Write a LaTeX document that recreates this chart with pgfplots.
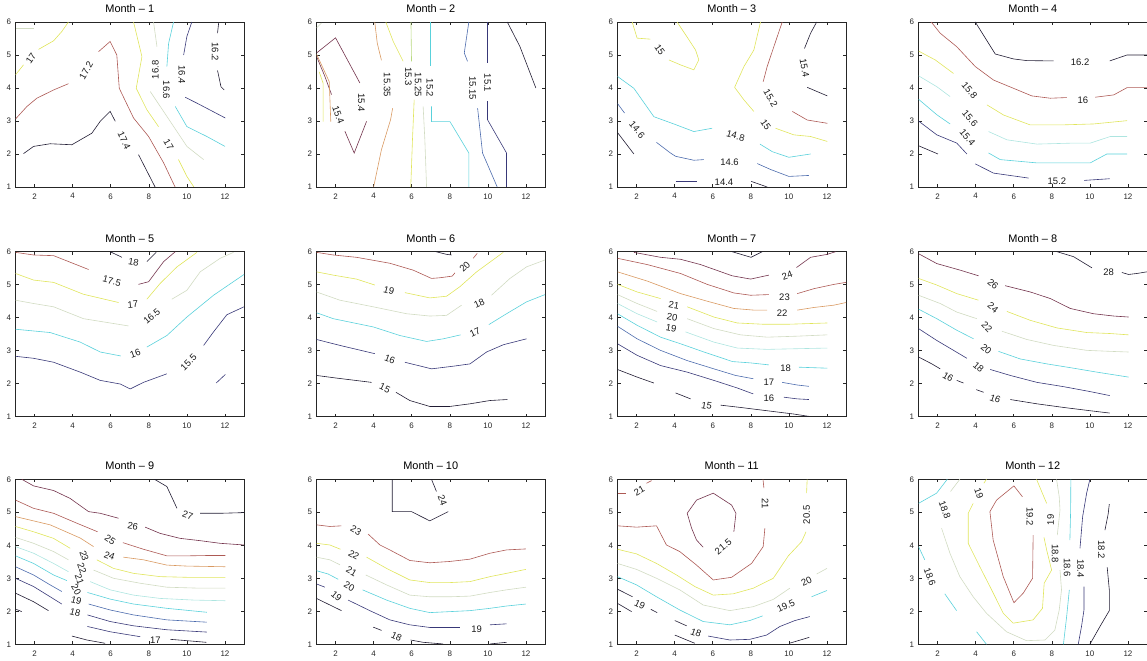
\documentclass[border=0pt]{standalone}
\usepackage{pgfplots}
\pgfplotsset{compat=1.18}
\usepackage{fontspec}
\setmainfont{Liberation Sans}
\definecolor{cK}{rgb}{0.13,0.11,0.2}
\definecolor{cN}{rgb}{0.22,0.22,0.47}
\definecolor{cB}{rgb}{0.3,0.42,0.68}
\definecolor{cC}{rgb}{0.35,0.82,0.86}
\definecolor{cPC}{rgb}{0.68,0.9,0.88}
\definecolor{cP}{rgb}{0.82,0.86,0.76}
\definecolor{cG}{rgb}{0.72,0.85,0.5}
\definecolor{cY}{rgb}{0.88,0.9,0.36}
\definecolor{cO}{rgb}{0.85,0.6,0.38}
\definecolor{cR}{rgb}{0.68,0.35,0.33}
\definecolor{cM}{rgb}{0.45,0.2,0.3}
\pgfplotsset{
  mstyle/.style={
    width=228.5bp,height=165bp,scale only axis,anchor=north west,
    xmin=1,xmax=13,ymin=1,ymax=6,
    xtick={2,4,6,8,10,12}, ytick={1,2,3,4,5,6},
    tick align=inside, major tick length=3bp,
    axis line style={line width=0.6pt, black!85},
    tick style={line width=0.5pt, black!85},
    /pgf/number format/assume math mode=true,
    xticklabel style={font=\fontsize{8}{9}\selectfont, yshift=-3bp, text=black!85},
    yticklabel style={font=\fontsize{8}{9}\selectfont, xshift=-1bp, text=black!85},
    title style={font=\fontsize{11}{12}\selectfont},
    every axis plot/.append style={line width=0.6pt, mark=none},
  },
}
\tikzset{lab/.style={font=\fontsize{9.5}{10}\selectfont, inner sep=0pt, text=black!90}}
\newcommand{\cl}[3][0]{\node[lab,rotate=#1] at (axis cs:#2) {#3};}
\begin{document}
\begin{tikzpicture}
\useasboundingbox (0,0) rectangle (1147bp,661bp);
% ---------------- Month 1
\begin{axis}[mstyle, at={(15.5bp,639bp)}, title={Month \textendash{} 1}]
\addplot[cP] coordinates {(1.04,5.81)(1.95,5.81)};
\addplot[cY] coordinates {(1.0,4.40)(1.42,4.70)};
\addplot[cY] coordinates {(2.21,5.17)(3.0,5.43)(3.43,5.71)(3.78,6.0)};
\cl[55]{1.81,4.9}{17}
\addplot[cR] coordinates {(1.0,3.06)(1.60,3.44)(2.12,3.69)(3.0,3.94)(3.78,4.13)};
\addplot[cR] coordinates {(5.36,5.10)(5.97,5.41)(6.32,5.0)(6.45,3.99)(7.20,3.09)(7.99,2.53)(8.78,1.73)(9.38,1.0)};
\cl[60]{4.71,4.53}{17.2}
\addplot[cK] coordinates {(1.42,2.01)(1.95,2.23)(2.82,2.31)(3.96,2.28)(5.01,2.63)(5.45,2.99)(5.97,3.29)(6.24,2.99)};
\addplot[cK] coordinates {(7.46,1.98)(8.33,1.0)};
\cl[-65]{6.71,2.41}{17.4}
\addplot[cY] coordinates {(7.20,6.0)(7.64,4.95)(7.34,3.99)(7.90,3.34)(8.51,2.83)};
\addplot[cY] coordinates {(9.56,1.83)(10.0,1.32)(10.37,1.0)};
\cl[-60]{9.04,2.28}{17}
\addplot[cP] coordinates {(8.25,6.0)(8.43,5.25)};
\addplot[cP] coordinates {(8.08,3.89)(8.95,3.14)(10.0,2.23)(10.88,1.83)};
\cl[90]{8.34,4.55}{16.8}
\addplot[cC] coordinates {(9.30,6.0)(9.04,5.35)(8.95,4.65)};
\addplot[cC] coordinates {(9.39,3.44)(10.0,2.83)(11.05,2.53)(12.0,2.23)};
\cl[-90]{8.92,3.94}{16.6}
\addplot[cN] coordinates {(10.26,6.0)(10.0,5.56)(9.83,5.0)};
\addplot[cN] coordinates {(9.91,3.72)(10.53,3.54)(12.02,3.09)};
\cl[-90]{9.74,4.40}{16.4}
\addplot[cK] coordinates {(11.67,5.98)(11.61,5.66)};
\addplot[cK] coordinates {(11.61,4.53)(11.79,4.04)(11.96,3.94)};
\cl[-90]{11.49,5.10}{16.2}
\end{axis}
% ---------------- Month 2
\begin{axis}[mstyle, at={(316.5bp,639bp)}, title={Month \textendash{} 2}]
\addplot[cP] coordinates {(1.0,5.82)(1.26,5.97)};
\addplot[cM] coordinates {(1.0,5.06)(2.0,5.52)(3.28,4.15)};
\addplot[cM] coordinates {(3.63,2.99)(2.98,2.03)(2.49,2.69)};
\addplot[cM] coordinates {(1.79,3.80)(1.44,4.35)(1.0,4.96)};
\cl[-90]{3.36,3.55}{15.4}
\cl[-70]{2.14,3.19}{15.4}
\addplot[cO] coordinates {(1.0,5.03)(1.67,4.19)(1.75,2.98)};
\addplot[cY] coordinates {(1.14,4.49)(1.35,4.14)(1.35,2.98)};
\addplot[cO] coordinates {(4.06,6.0)(4.19,5.36)(4.41,4.84)};
\addplot[cO] coordinates {(5.0,3.39)(4.89,3.04)(4.41,2.13)(4.0,1.0)};
\cl[-90]{4.71,4.10}{15.35}
\addplot[cY] coordinates {(4.64,6.0)(5.03,5.41)(5.55,4.81)};
\addplot[cY] coordinates {(6.13,3.65)(6.04,2.43)(5.95,1.0)};
\cl[-90]{5.82,4.35}{15.3}
\addplot[cG] coordinates {(5.96,6.0)(5.99,4.81)};
\addplot[cP] coordinates {(6.60,3.44)(6.69,2.43)(6.78,1.0)};
\cl[-90]{6.34,4.10}{15.25}
\addplot[cC] coordinates {(6.99,6.0)(6.99,4.66)};
\addplot[cC] coordinates {(7.04,3.44)(7.04,2.98)(8.01,2.98)(9.0,2.03)(9.0,1.0)};
\cl[-90]{6.95,4.0}{15.2}
\addplot[cB] coordinates {(9.0,6.0)(8.76,5.06)(8.93,4.81)};
\addplot[cB] coordinates {(9.46,3.39)(9.72,2.03)(10.49,1.0)};
\cl[-90]{9.20,4.0}{15.15}
\addplot[cN] coordinates {(9.98,6.0)(9.98,4.76)};
\addplot[cN] coordinates {(9.98,3.60)(9.98,3.04)(10.98,2.03)(10.98,1.0)};
\cl[-90]{9.98,4.15}{15.1}
\addplot[cK] coordinates {(11.02,6.0)(11.68,5.26)(12.52,4.0)};
\end{axis}
% ---------------- Month 3
\begin{axis}[mstyle, at={(617.5bp,639bp)}, title={Month \textendash{} 3}]
\addplot[cY] coordinates {(1.77,6.0)(2.03,5.51)(2.73,5.48)};
\addplot[cY] coordinates {(3.70,4.85)(4.31,4.70)(5.01,4.55)(5.27,4.85)(5.10,5.15)(4.66,5.54)(4.13,6.0)};
\cl[-55]{3.22,5.15}{15}
\addplot[cY] coordinates {(8.51,6.0)(8.16,5.15)(7.64,4.65)(7.15,4.02)(7.64,3.64)(8.16,3.29)};
\addplot[cY] coordinates {(9.30,2.78)(10.26,2.58)(11.14,2.53)(12.02,2.38)};
\cl[-55]{8.78,2.89}{15}
\addplot[cC] coordinates {(1.0,4.35)(1.86,3.99)(2.91,3.13)(3.96,2.91)(5.01,2.68)(5.97,2.78)};
\cl[-15]{7.20,2.55}{14.8}
\addplot[cC] coordinates {(8.48,2.30)(9.13,2.07)(10.0,1.90)(11.14,2.0)};
\addplot[cB] coordinates {(1.0,3.53)(1.37,3.24)};
\cl[-50]{2.03,2.73}{14.6}
\addplot[cB] coordinates {(3.05,2.35)(3.78,2.03)(4.05,1.93)(5.01,1.81)(5.54,1.83)};
\cl{6.88,1.76}{14.6}
\addplot[cB] coordinates {(8.34,1.71)(9.04,1.53)(10.0,1.32)(11.05,1.35)};
\addplot[cK] coordinates {(1.0,2.65)(1.86,2.0)};
\addplot[cN] coordinates {(4.05,1.16)(5.15,1.16)};
\cl{6.59,1.14}{14.4}
\addplot[cK] coordinates {(8.02,1.17)(8.86,1.0)};
\addplot[cR] coordinates {(9.65,6.0)(9.21,5.25)(8.86,4.65)(8.65,4.19)};
\cl[-60]{9.04,3.69}{15.2}
\addplot[cR] coordinates {(10.18,3.29)(10.96,3.03)(12.02,2.93)};
\addplot[cK] coordinates {(11.46,6.0)(11.14,5.66)(10.82,5.20)};
\cl[-80]{10.82,4.60}{15.4}
\addplot[cK] coordinates {(10.96,4.02)(12.02,3.76)};
\end{axis}
% ---------------- Month 4
\begin{axis}[mstyle, at={(918.5bp,639bp)}, title={Month \textendash{} 4}]
\addplot[cK] coordinates {(3.98,6.0)(5.03,5.03)(5.99,4.88)(6.69,4.83)(8.09,4.82)};
\cl{9.49,4.78}{16.2}
\addplot[cK] coordinates {(11.04,4.82)(11.95,5.0)(13.0,5.0)};
\addplot[cR] coordinates {(1.67,6.0)(2.14,5.66)(3.01,5.25)(3.98,4.65)(4.94,4.24)(5.99,3.99)(6.95,3.76)(7.92,3.69)(8.79,3.71)};
\cl{9.63,3.64}{16}
\addplot[cR] coordinates {(10.28,3.72)(11.25,3.79)(11.95,4.01)(13.0,4.01)};
\addplot[cY] coordinates {(1.0,5.12)(1.88,4.85)(2.84,4.44)};
\cl[-50]{3.68,3.94}{15.8}
\addplot[cY] coordinates {(4.59,3.49)(5.47,3.18)(6.87,2.88)(8.44,2.88)(10.19,2.91)(11.95,3.01)};
\addplot[cPC] coordinates {(1.0,4.37)(1.96,4.04)(2.66,3.74)};
\cl[-50]{3.71,3.09}{15.6}
\addplot[cPC] coordinates {(4.68,2.68)(5.64,2.43)(7.22,2.30)(9.14,2.33)(10.02,2.33)(11.07,2.53)(11.95,2.53)};
\addplot[cC] coordinates {(1.0,3.66)(1.96,3.19)(2.66,2.91)};
\cl[-50]{3.57,2.51}{15.4}
\addplot[cC] coordinates {(4.68,2.03)(5.29,1.83)(7.22,1.73)(8.62,1.73)(10.02,1.73)(10.89,2.0)(11.95,2.0)};
\addplot[cN] coordinates {(1.0,3.0)(1.96,2.58)(3.01,2.33)(3.54,2.0)};
\addplot[cN] coordinates {(3.98,1.70)(4.94,1.42)(6.78,1.27)};
\cl{8.27,1.17}{15.2}
\addplot[cN] coordinates {(9.70,1.20)(11.04,1.25)};
\addplot[cK] coordinates {(1.0,2.25)(2.02,2.0)};
\end{axis}
% ---------------- Month 5
\begin{axis}[mstyle, at={(15.5bp,409.3bp)}, title={Month \textendash{} 5}]
\addplot[cR] coordinates {(1.0,5.98)(1.95,5.90)(3.0,5.88)(4.84,5.46)};
\cl[-15]{6.06,5.11}{17.5}
\addplot[cM] coordinates {(7.46,5.01)(7.99,5.09)(8.78,5.70)(9.39,6.0)};
\addplot[cK] coordinates {(5.97,6.0)(6.59,5.83)};
\cl[-10]{7.20,5.67}{18}
\addplot[cK] coordinates {(7.90,5.70)(8.39,5.98)};
\addplot[cY] coordinates {(1.0,5.34)(1.95,5.14)(3.0,5.07)(4.57,4.71)(6.41,4.46)};
\cl[5]{7.16,4.40}{17}
\addplot[cY] coordinates {(7.90,4.56)(8.60,5.04)(9.48,5.54)(10.53,5.98)};
\addplot[cP] coordinates {(1.0,4.53)(1.95,4.43)(3.0,4.33)(4.57,3.97)(6.94,3.75)};
\cl[40]{8.16,4.05}{16.5}
\addplot[cP] coordinates {(9.21,4.56)(10.0,4.83)(10.70,5.39)(11.75,5.80)(12.45,5.98)};
\addplot[cC] coordinates {(1.0,3.65)(2.82,3.55)(4.40,3.26)(5.45,2.96)(6.53,2.84)};
\cl[20]{7.29,2.91}{16}
\addplot[cC] coordinates {(7.90,3.11)(8.95,3.46)(10.0,4.02)(11.40,4.68)(13.0,5.31)};
\addplot[cN] coordinates {(1.0,2.83)(1.95,2.77)(3.0,2.65)(4.40,2.35)(5.45,2.10)(6.50,1.99)(7.02,1.84)(7.72,2.04)(8.95,2.30)};
\cl[45]{10.09,2.65}{15.5}
\addplot[cN] coordinates {(10.88,3.16)(11.40,3.57)(12.10,4.09)(13.0,4.33)};
\addplot[cN] coordinates {(11.54,2.02)(12.02,2.28)};
\end{axis}
% ---------------- Month 6
\begin{axis}[mstyle, at={(316.5bp,409.3bp)}, title={Month \textendash{} 6}]
\addplot[cK] coordinates {(7.27,6.0)(7.83,5.92)(8.09,5.90)};
\addplot[cR] coordinates {(1.0,5.98)(1.88,5.90)(3.10,5.83)(4.85,5.65)(6.08,5.44)(7.04,5.19)(7.48,5.21)(8.13,5.26)(8.27,5.36)};
\cl[45]{8.79,5.54}{20}
\addplot[cR] coordinates {(9.23,5.80)(9.44,5.95)};
\addplot[cY] coordinates {(1.0,5.39)(1.88,5.29)(3.10,5.17)(4.06,4.99)};
\cl[-15]{4.80,4.83}{19}
\addplot[cY] coordinates {(5.64,4.76)(6.95,4.60)(7.83,4.65)(8.53,4.94)(9.41,5.39)(10.81,5.98)};
\addplot[cP] coordinates {(1.0,4.78)(2.23,4.53)(3.98,4.33)(5.73,4.12)(6.95,4.05)(7.83,4.07)(8.62,4.38)};
\cl[25]{9.55,4.43}{18}
\addplot[cP] coordinates {(10.19,4.68)(11.16,5.19)(12.03,5.54)(13.0,5.75)};
\addplot[cC] coordinates {(1.0,4.15)(1.88,3.97)(3.98,3.72)(5.38,3.46)(6.78,3.28)(7.66,3.36)(8.57,3.48)};
\cl[25]{9.32,3.55}{17}
\addplot[cC] coordinates {(10.05,3.79)(10.98,4.12)(12.03,4.48)(13.0,4.70)};
\addplot[cN] coordinates {(1.0,3.34)(2.23,3.16)(4.06,2.91)};
\cl[-20]{4.85,2.73}{16}
\addplot[cN] coordinates {(5.64,2.65)(7.04,2.45)(8.18,2.53)(9.06,2.60)(9.93,2.96)(10.81,3.18)(12.03,3.36)};
\addplot[cK] coordinates {(1.0,2.25)(2.05,2.17)(3.89,2.04)};
\cl[-25]{4.59,1.86}{15}
\addplot[cK] coordinates {(5.17,1.74)(5.90,1.49)(6.95,1.31)(8.0,1.31)(9.06,1.39)(10.11,1.49)(11.02,1.52)};
\end{axis}
% ---------------- Month 7
\begin{axis}[mstyle, at={(617.5bp,409.3bp)}, title={Month \textendash{} 7}]
\addplot[cK] coordinates {(7.02,6.0)(8.01,5.83)(8.60,6.0)};
\addplot[cM] coordinates {(1.86,5.98)(3.26,5.83)(4.31,5.77)(5.36,5.61)(7.02,5.27)(7.99,5.17)(8.95,5.29)};
\cl[20]{9.91,5.29}{24}
\addplot[cM] coordinates {(10.40,5.52)(11.14,5.83)(12.02,5.92)(12.45,6.0)};
\addplot[cR] coordinates {(1.0,5.80)(2.56,5.61)(4.31,5.34)(5.71,5.01)(7.11,4.75)(7.99,4.68)(8.95,4.70)};
\cl{9.77,4.63}{23}
\addplot[cR] coordinates {(10.44,4.73)(11.32,4.88)(12.37,5.01)(13.0,5.07)};
\addplot[cO] coordinates {(1.0,5.39)(2.56,5.11)(4.31,4.73)(5.71,4.50)(7.11,4.28)(8.16,4.23)(8.86,4.23)};
\cl{9.65,4.14}{22}
\addplot[cO] coordinates {(10.44,4.23)(11.32,4.31)(12.37,4.38)(13.0,4.46)};
\addplot[cY] coordinates {(1.0,5.01)(2.03,4.78)(3.26,4.58)};
\cl[-10]{3.96,4.38}{21}
\addplot[cY] coordinates {(4.66,4.33)(6.06,4.02)(7.29,3.84)(8.69,3.80)(9.91,3.80)(12.02,3.84)};
\addplot[cP] coordinates {(1.0,4.70)(2.03,4.43)(3.08,4.19)};
\cl[-10]{3.87,4.02}{20}
\addplot[cP] coordinates {(4.66,3.97)(6.06,3.67)(7.46,3.48)(8.86,3.41)(10.44,3.44)(12.02,3.48)};
\addplot[cPC] coordinates {(1.0,4.43)(2.03,4.12)(3.08,3.87)};
\cl[-10]{3.82,3.67}{19}
\addplot[cPC] coordinates {(4.57,3.57)(6.06,3.26)(7.29,3.08)(8.86,3.04)(10.44,3.06)(12.02,3.08)};
\addplot[cC] coordinates {(1.0,4.12)(2.03,3.77)(3.26,3.41)(4.31,3.21)(5.54,2.96)(7.04,2.67)(7.99,2.63)(8.95,2.57)};
\cl{9.83,2.47}{18}
\addplot[cC] coordinates {(10.53,2.50)(12.02,2.47)};
\addplot[cB] coordinates {(1.0,3.74)(2.03,3.36)(3.26,3.01)(4.66,2.70)(6.06,2.45)(7.20,2.25)(8.13,2.15)};
\cl{8.95,2.04}{17}
\addplot[cB] coordinates {(9.65,2.04)(10.44,1.96)(11.05,1.92)};
\addplot[cN] coordinates {(1.0,3.21)(2.03,2.86)(3.26,2.55)(4.66,2.35)(6.06,2.10)(7.29,1.87)(8.13,1.69)};
\cl{8.95,1.56}{16}
\addplot[cN] coordinates {(9.74,1.59)(10.44,1.54)(11.05,1.52)};
\addplot[cK] coordinates {(1.0,2.43)(2.03,2.20)(2.91,2.02)};
\addplot[cK] coordinates {(4.05,1.72)(4.84,1.54)};
\cl[-10]{5.68,1.33}{15}
\addplot[cK] coordinates {(6.41,1.35)(7.46,1.28)(8.86,1.18)(10.26,1.08)(11.05,1.01)};
\end{axis}
% ---------------- Month 8
\begin{axis}[mstyle, at={(918.5bp,409.3bp)}, title={Month \textendash{} 8}]
\addplot[cK] coordinates {(8.27,6.0)(9.14,5.85)(10.11,5.51)};
\cl{10.98,5.39}{28}
\addplot[cK] coordinates {(11.68,5.37)(12.03,5.31)(12.47,5.34)(13.0,5.39)};
\addplot[cM] coordinates {(1.0,5.94)(1.96,5.64)(3.19,5.44)(4.15,5.27)};
\cl[-40]{4.91,5.01}{26}
\addplot[cM] coordinates {(5.55,4.97)(6.87,4.78)(7.92,4.58)(8.97,4.28)(10.19,4.12)(11.25,4.05)(12.03,4.02)};
\addplot[cY] coordinates {(1.0,5.19)(1.96,4.99)(3.01,4.73)(4.15,4.53)};
\cl[-40]{4.91,4.30}{24}
\addplot[cY] coordinates {(5.64,4.19)(6.87,3.92)(8.27,3.69)(9.84,3.55)(11.07,3.52)(12.03,3.48)};
\addplot[cP] coordinates {(1.0,4.68)(2.14,4.43)(3.01,4.17)(4.06,3.97)};
\cl[-45]{4.59,3.72}{22}
\addplot[cP] coordinates {(5.38,3.59)(6.69,3.34)(8.09,3.16)(9.84,3.01)(11.07,2.98)(12.03,2.96)};
\addplot[cC] coordinates {(1.0,4.26)(1.96,3.97)(3.01,3.62)(3.89,3.36)};
\cl[-40]{4.56,3.04}{20}
\addplot[cC] coordinates {(5.20,2.98)(6.34,2.75)(7.74,2.60)(9.14,2.47)(10.37,2.35)(12.03,2.20)};
\addplot[cN] coordinates {(1.0,3.67)(1.96,3.31)(2.84,3.01)(3.54,2.77)};
\cl[-40]{4.15,2.50}{18}
\addplot[cN] coordinates {(4.77,2.43)(5.82,2.25)(7.22,2.04)(8.62,1.91)(10.02,1.76)(11.04,1.64)};
\addplot[cK] coordinates {(1.0,2.81)(1.70,2.60)(2.14,2.45)};
\cl[-30]{2.55,2.20}{16}
\addplot[cK] coordinates {(3.01,2.10)(3.36,2.02)};
\addplot[cK] coordinates {(4.03,1.82)(4.42,1.74)};
\cl[-20]{5.03,1.54}{16}
\addplot[cK] coordinates {(5.82,1.52)(7.22,1.39)(8.62,1.28)(10.02,1.18)(11.04,1.11)};
\end{axis}
% ---------------- Month 9
\begin{axis}[mstyle, at={(15.5bp,181.7bp)}, title={Month \textendash{} 9}]
\addplot[cK] coordinates {(8.30,6.0)(8.95,5.78)(9.48,5.12)};
\cl[-20]{10.04,4.92}{27}
\addplot[cK] coordinates {(10.70,4.97)(11.75,4.97)(13.0,4.99)};
\addplot[cM] coordinates {(1.33,6.0)(1.95,5.80)(3.0,5.66)(3.87,5.42)(4.84,5.02)(5.45,4.97)(6.41,4.82)};
\cl[-10]{7.16,4.59}{26}
\addplot[cM] coordinates {(7.81,4.55)(8.60,4.36)(9.65,4.21)(10.70,4.14)(11.75,4.06)(13.0,4.01)};
\addplot[cR] coordinates {(1.0,5.37)(1.95,5.12)(3.0,4.97)(4.22,4.67)(5.31,4.41)};
\cl[-35]{5.97,4.18}{25}
\addplot[cR] coordinates {(6.64,4.08)(7.72,3.88)(8.95,3.68)(10.0,3.68)(11.05,3.69)(12.02,3.69)};
\addplot[cO] coordinates {(1.0,4.87)(2.82,4.62)(4.40,4.22)(5.10,3.96)};
\cl[-20]{5.94,3.68}{24}
\addplot[cO] coordinates {(6.67,3.64)(7.72,3.56)(8.95,3.40)(10.0,3.37)(12.02,3.35)};
\addplot[cY] coordinates {(1.0,4.57)(1.95,4.41)(3.0,4.21)(3.87,3.91)};
\cl[-70]{4.61,3.68}{23}
\addplot[cY] coordinates {(5.27,3.56)(6.15,3.30)(7.20,3.15)(8.60,3.05)(10.0,3.03)(12.02,3.03)};
\addplot[cP] coordinates {(1.0,4.24)(1.95,4.06)(3.0,3.81)(3.78,3.56)};
\cl[-70]{4.49,3.31}{22}
\addplot[cP] coordinates {(5.10,3.25)(6.15,3.0)(7.55,2.85)(8.95,2.73)(10.70,2.70)(12.02,2.70)};
\addplot[cPC] coordinates {(1.0,3.96)(1.95,3.76)(3.0,3.45)(3.78,3.20)};
\cl[-70]{4.36,2.97}{21}
\addplot[cPC] coordinates {(4.92,2.90)(5.97,2.65)(7.20,2.49)(8.60,2.39)(10.35,2.34)(12.02,2.32)};
\addplot[cC] coordinates {(1.0,3.68)(1.95,3.45)(3.0,3.10)(3.70,2.93)};
\cl[-60]{4.19,2.66}{20}
\addplot[cC] coordinates {(4.78,2.57)(5.97,2.37)(7.20,2.22)(8.95,2.09)(11.05,1.97)};
\addplot[cB] coordinates {(1.0,3.35)(1.95,3.10)(2.82,2.80)(3.43,2.60)};
\cl[-15]{4.19,2.32}{19}
\addplot[cB] coordinates {(4.84,2.22)(5.97,2.04)(7.20,1.89)(8.95,1.74)(11.05,1.67)};
\addplot[cN] coordinates {(1.0,3.0)(1.95,2.75)(2.82,2.44)(3.43,2.22)};
\cl[-15]{4.13,1.97}{18}
\addplot[cN] coordinates {(4.78,1.89)(5.97,1.69)(7.20,1.56)(8.95,1.44)(11.05,1.37)};
\addplot[cN] coordinates {(4.78,1.54)(5.97,1.38)(7.55,1.23)};
\addplot[cK] coordinates {(1.0,2.55)(1.95,2.29)(2.73,2.02)};
\addplot[cK] coordinates {(1.04,2.06)(1.33,1.99)};
\addplot[cK] coordinates {(3.96,1.25)(4.75,1.13)(5.71,1.03)};
\cl{8.34,1.13}{17}
\addplot[cK] coordinates {(9.13,1.15)(10.0,1.11)(11.02,1.06)};
\end{axis}
% ---------------- Month 10
\begin{axis}[mstyle, at={(316.5bp,181.7bp)}, title={Month \textendash{} 10}]
\addplot[cK] coordinates {(4.98,6.0)(4.98,5.02)(5.99,5.02)(6.95,4.74)(7.92,5.02)};
\addplot[cK] coordinates {(7.04,6.0)(7.30,5.63)};
\cl[-70]{7.62,5.37}{24}
\addplot[cR] coordinates {(1.0,4.62)(1.70,4.57)(2.31,4.59)};
\cl[-30]{3.07,4.44}{23}
\addplot[cR] coordinates {(3.71,4.34)(4.33,4.01)(4.85,3.86)(5.90,3.54)(6.95,3.47)(8.0,3.51)(9.06,3.58)(10.11,3.76)(10.98,3.86)(12.0,3.89)};
\addplot[cY] coordinates {(1.0,4.06)(1.70,4.01)(2.26,3.88)};
\cl[-30]{2.96,3.71}{22}
\addplot[cY] coordinates {(3.63,3.64)(4.68,3.30)(5.90,2.95)(6.95,2.87)(8.0,2.87)(9.06,2.90)(10.11,3.05)(10.98,3.15)(12.0,3.27)};
\addplot[cP] coordinates {(1.0,3.64)(1.70,3.56)(2.23,3.41)};
\cl[-30]{2.84,3.20}{21}
\addplot[cP] coordinates {(3.59,3.10)(4.68,2.80)(5.90,2.49)(6.95,2.44)(8.0,2.44)(9.06,2.46)(10.11,2.57)(10.98,2.65)(12.0,2.73)};
\addplot[cC] coordinates {(1.0,3.23)(1.61,3.13)(2.14,2.97)};
\cl[-30]{2.72,2.75}{20}
\addplot[cC] coordinates {(3.42,2.65)(4.68,2.34)(5.90,2.09)(6.95,1.96)(8.0,1.99)(9.06,2.02)(10.11,2.09)(10.98,2.16)(12.0,2.22)};
\addplot[cN] coordinates {(1.0,2.83)(1.44,2.73)};
\cl[-40]{2.05,2.46}{19}
\addplot[cN] coordinates {(2.66,2.34)(3.80,2.02)(4.85,1.74)(5.90,1.59)(6.95,1.51)(8.53,1.51)};
\cl{9.41,1.46}{19}
\addplot[cN] coordinates {(10.11,1.59)(10.98,1.62)};
\addplot[cK] coordinates {(1.0,2.39)(2.31,2.02)};
\addplot[cK] coordinates {(3.98,1.52)(4.42,1.42)};
\cl[-25]{5.20,1.23}{18}
\addplot[cK] coordinates {(5.94,1.13)(6.60,1.06)(7.65,1.01)};
\addplot[cK] coordinates {(10.11,1.01)(10.98,1.06)};
\end{axis}
% ---------------- Month 11
\begin{axis}[mstyle, at={(617.5bp,181.7bp)}, title={Month \textendash{} 11}]
\addplot[cR] coordinates {(1.0,5.58)(1.47,5.58)};
\cl[30]{2.14,5.66}{21}
\addplot[cR] coordinates {(2.52,5.88)(2.79,5.96)};
\addplot[cR] coordinates {(1.0,4.59)(2.0,4.55)(3.05,4.59)(3.57,4.01)(4.27,3.81)(5.15,3.40)(6.03,2.95)(6.99,3.03)(8.04,3.45)(8.65,3.96)(8.74,4.52)};
\cl[-90]{8.76,5.27}{21}
\addplot[cR] coordinates {(8.69,5.73)(8.64,6.0)};
\addplot[cM] coordinates {(7.11,4.41)(7.22,4.97)(6.99,5.22)(6.03,5.58)(5.15,5.37)(4.66,4.97)(4.89,4.52)(5.15,4.16)(5.50,3.94)};
\cl[40]{6.55,3.96}{21.5}
\addplot[cY] coordinates {(1.0,3.88)(2.0,3.74)(3.05,3.45)(4.10,3.10)(5.06,2.75)(6.03,2.49)(7.08,2.53)(8.13,2.70)(9.18,3.0)(9.97,3.68)(10.67,4.11)(10.90,4.41)};
\cl[90]{10.93,4.92}{20.5}
\addplot[cY] coordinates {(10.93,5.58)(10.96,6.0)};
\addplot[cP] coordinates {(1.0,3.45)(2.0,3.27)(3.05,3.0)(4.27,2.65)(5.50,2.19)(6.90,2.02)(8.13,2.14)(9.18,2.36)(10.05,2.70)};
\cl[25]{10.93,2.90}{20}
\addplot[cP] coordinates {(11.46,3.13)(12.0,3.30)};
\addplot[cC] coordinates {(1.0,3.05)(2.0,2.80)(3.05,2.44)(4.27,2.04)(5.50,1.69)(6.90,1.59)(7.95,1.72)(8.62,1.86)};
\cl[25]{9.84,2.16}{19.5}
\addplot[cC] coordinates {(11.19,2.44)(12.0,2.63)};
\addplot[cK] coordinates {(1.0,2.67)(1.79,2.44)};
\cl[-25]{2.17,2.19}{19}
\addplot[cK] coordinates {(2.75,2.06)(3.08,1.96)};
\addplot[cK] coordinates {(4.01,1.72)(4.63,1.56)};
\cl[-20]{5.12,1.35}{18}
\addplot[cN] coordinates {(5.76,1.25)(6.90,1.13)(7.95,1.15)(8.83,1.28)(9.53,1.54)(10.32,1.72)(11.10,1.84)};
\addplot[cK] coordinates {(1.0,2.24)(1.74,1.99)};
\addplot[cK] coordinates {(4.01,1.28)(5.06,1.03)};
\addplot[cK] coordinates {(10.02,1.03)(11.07,1.21)};
\end{axis}
% ---------------- Month 12
\begin{axis}[mstyle, at={(918.5bp,181.7bp)}, title={Month \textendash{} 12}]
\addplot[cR] coordinates {(7.02,4.31)(6.99,3.0)(6.50,2.55)(6.01,2.26)(5.45,3.05)(4.92,4.16)(4.75,5.02)(5.10,5.37)(6.01,5.80)(6.46,5.47)};
\cl[-90]{6.85,4.87}{19.2}
\addplot[cY] coordinates {(4.57,6.0)(4.43,5.88)};
\cl[-70]{4.17,5.58}{19}
\addplot[cY] coordinates {(3.87,5.27)(3.61,4.97)(3.61,4.06)(4.22,3.35)(4.84,2.65)(5.45,1.94)(5.97,1.64)(7.02,1.74)(7.51,2.09)(7.60,2.85)(7.99,3.25)(7.73,3.86)(7.59,4.24)};
\cl[90]{7.94,4.77}{19}
\addplot[cY] coordinates {(7.73,5.27)(7.43,5.68)(7.20,6.0)};
\addplot[cP] coordinates {(3.17,6.0)(2.68,5.63)};
\cl[-70]{2.38,5.07}{18.8}
\addplot[cP] coordinates {(2.21,4.52)(2.65,3.76)(3.17,3.05)(3.87,2.44)(4.57,1.94)(5.62,1.38)(6.67,1.11)(7.64,1.13)(8.16,1.43)(8.39,2.04)(8.51,2.65)(8.43,3.25)};
\cl[-90]{8.18,3.75}{18.8}
\addplot[cP] coordinates {(8.29,4.31)(8.43,5.07)(8.39,5.47)(8.25,6.0)};
\addplot[cC] coordinates {(9.0,6.0)(8.99,5.07)(8.95,4.16)};
\cl[-90]{8.81,3.33}{18.6}
\addplot[cC] coordinates {(8.92,2.65)(8.78,1.84)(8.61,1.0)};
\addplot[cC] coordinates {(1.0,3.96)(1.33,3.56)};
\cl[-70]{1.60,3.05}{18.6}
\addplot[cC] coordinates {(2.38,2.53)(3.0,2.02)};
\addplot[cC] coordinates {(1.0,5.27)(1.95,5.58)(2.51,6.0)};
\addplot[cC] coordinates {(4.05,1.38)(4.57,1.0)};
\addplot[cN] coordinates {(10.0,6.0)(9.83,5.58)(9.62,4.87)(9.48,3.91)};
\cl[-90]{9.51,3.30}{18.4}
\addplot[cN] coordinates {(9.69,2.75)(9.69,2.04)(9.56,1.54)(9.39,1.0)};
\addplot[cK] coordinates {(11.02,5.25)(10.96,4.95)(10.79,4.46)};
\cl[-90]{10.61,3.86}{18.2}
\addplot[cK] coordinates {(10.91,3.33)(11.02,2.65)(11.02,2.02)(10.53,1.54)(10.0,1.0)};
\end{axis}
\end{tikzpicture}
\end{document}
